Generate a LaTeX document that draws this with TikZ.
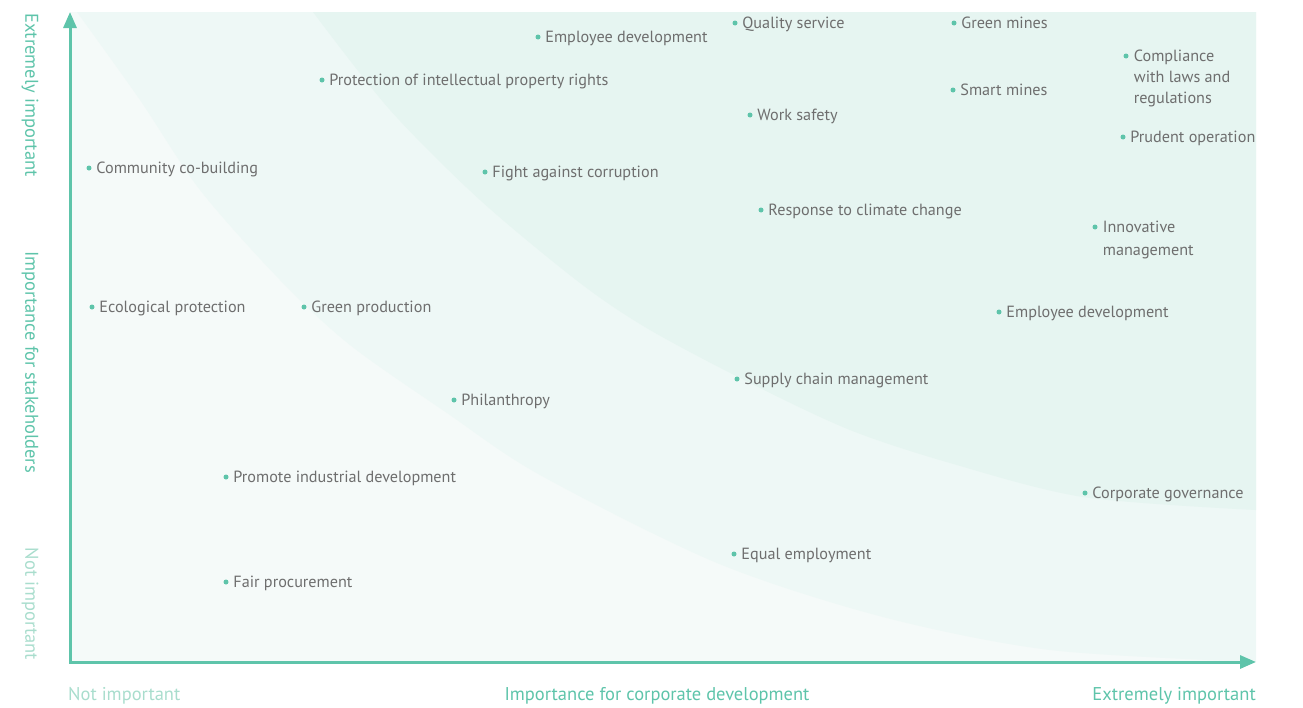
\documentclass[tikz,border=0pt]{standalone}
\usepackage{fontspec}
\setmainfont{PT Sans}
\usetikzlibrary{arrows.meta}
\usetikzlibrary{positioning}

\definecolor{axisgreen}{HTML}{5EC4AA}
\definecolor{palegreen}{HTML}{A9DDCD}
\definecolor{itemgray}{HTML}{6E6E6E}
\definecolor{zoneA}{HTML}{F5FAF9}
\definecolor{zoneB}{HTML}{EEF8F6}
\definecolor{zoneC}{HTML}{E6F5F1}

\tikzset{
  issue/.style={circle, fill=axisgreen, inner sep=0pt, minimum size=5pt},
  topic/.style={text=itemgray, font=\fontsize{16.2}{21}\selectfont, inner sep=0pt, text height=11pt, text depth=0pt},
  topicml/.style={text=itemgray, font=\fontsize{16.2}{21}\selectfont, inner sep=0pt, align=left, anchor=north west},
  axislabel/.style={text=axisgreen, font=\fontsize{18.5}{22}\selectfont, inner sep=0pt},
}

\begin{document}
\begin{tikzpicture}[x=1pt, y=-1pt, >={Triangle[length=16pt,width=13pt]}]
    \useasboundingbox (0,0) rectangle (1303,707);

    \fill[zoneA] (70,12) rectangle (1256,662);
    \fill[zoneB] plot[smooth] coordinates {(77,12) (140,100) (200,190) (280,280) (350,345) (447,413) (540,475) (717,563) (883,617) (1050,650) (1256,662)} -- (1256,12) -- cycle;
    \fill[zoneC] plot[smooth] coordinates {(313,12) (390,110) (480,200) (580,283) (650,330) (750,383) (850,430) (950,463) (1083,497) (1256,510)} -- (1256,12) -- cycle;

    \coordinate (ytop) at (70,12);
    \coordinate (origin) at (70,662);
    \coordinate (xend) at (1256,662);
    \draw[<->, axisgreen, line width=3pt] (ytop) -- (origin) -- (xend);

    \node[axislabel, rotate=-90] (yhigh) at (30,95) {Extremely important};
    \node[axislabel, rotate=-90] (ytitle) at (30,362) {Importance for stakeholders};
    \node[axislabel, rotate=-90, text=palegreen] (ylow) at (30,604) {Not important};
    \node[axislabel, text=palegreen, anchor=west] (xlow) at (68,696) {Not important};
    \node[axislabel] (xtitle) at (657,696) {Importance for corporate development};
    \node[axislabel, anchor=east] (xhigh) at (1256,696) {Extremely important};

    \foreach \nm/\x/\y/\txt in {
        empdev/538/37/Employee development,
        quality/735/23/Quality service,
        greenmines/954/23/Green mines,
        ipr/322/80/Protection of intellectual property rights,
        smartmines/953/90/Smart mines,
        safety/750/115/Work safety,
        prudent/1123/137/Prudent operation,
        community/89/168/Community co-building,
        corruption/485/172/Fight against corruption,
        climate/761/210/Response to climate change,
        ecology/92/307/Ecological protection,
        greenprod/304/307/Green production,
        staffdev/999/312/Employee development,
        supply/737/379/Supply chain management,
        charity/454/400/Philanthropy,
        industry/226/477/Promote industrial development,
        governance/1085/493/Corporate governance,
        equal/734/554/Equal employment,
        procure/226/582/Fair procurement}
    {
        \node[issue] (\nm) at (\x,\y) {};
        \node[topic, right=4.5pt of \nm] (\nm-text) {\txt};
    }

    \node[issue] (comply) at (1126,56) {};
    \node[topicml] (comply-text) at ([xshift=5pt, yshift=6.5pt]comply.east) {Compliance\\with laws and\\regulations};
    \node[issue] (innovate) at (1095,227) {};
    \node[topicml] (innovate-text) at ([xshift=5pt, yshift=6.5pt]innovate.east) {Innovative\\[2pt]management};
\end{tikzpicture}
\end{document}
